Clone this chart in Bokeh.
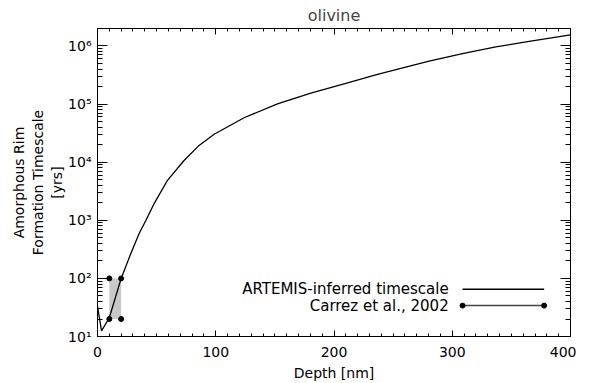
from bokeh.plotting import figure
from bokeh.models import (LinearAxis, LogAxis, SingleIntervalTicker, LogTicker,
                          CustomJSTickFormatter, Range1d, Label)
from bokeh.embed import file_html
from bokeh.resources import INLINE

# ---------------- data ----------------
title = "olivine"
x_label = "Depth [nm]"
y_label = "Amorphous Rim\nFormation Timescale\n[yrs]"

depth_nm = [0, 3.4, 10, 20, 28.2, 35.2, 41, 47.9, 59.2, 73.2, 85.9, 98.6,
            124, 152.2, 180.4, 208.5, 236.8, 256.5, 280.4, 308.7, 336.8, 365, 400]
timescale_yrs = [33, 12.5, 21, 100, 269, 593, 1000, 1940, 4880, 10700, 19450, 30200,
                 58200, 101200, 153800, 223400, 323600, 412100, 547000, 741300,
                 963800, 1202000, 1549000]

carrez_depth = [10, 20]
carrez_time = [20, 100]

legend_labels = ["ARTEMIS-inferred timescale", "Carrez et al., 2002"]

# ---------------- styling / layout ----------------
FONT = "DejaVu Sans"
x_range = (0, 400)
y_range = (10, 2e6)

p = figure(output_backend="svg", toolbar_location=None,
           frame_width=473, frame_height=308,
           min_border_left=97, min_border_right=6, min_border_top=28, min_border_bottom=40,
           x_range=Range1d(*x_range), y_range=Range1d(*y_range),
           y_axis_type="log", title=title)

p.title.align = "center"
p.title.text_font = FONT
p.title.text_font_style = "normal"
p.title.text_font_size = "16px"
p.title.standoff = 7
p.grid.visible = False
p.outline_line_color = "black"
p.background_fill_color = "white"
p.border_fill_color = "white"

sup_code = """
const sup = {'0':'\u2070','1':'\u00b9','2':'\u00b2','3':'\u00b3','4':'\u2074','5':'\u2075','6':'\u2076','7':'\u2077','8':'\u2078','9':'\u2079','-':'\u207b'};
const e = Math.round(Math.log10(tick));
return '10' + String(e).split('').map(c => sup[c]).join('');
"""
empty = CustomJSTickFormatter(code="return '';")

def style_axis(ax, major_in, minor_in):
    ax.axis_line_color = "black"
    ax.major_tick_line_color = "black"
    ax.minor_tick_line_color = "black"
    ax.major_tick_in = major_in
    ax.major_tick_out = 0
    ax.minor_tick_in = minor_in
    ax.minor_tick_out = 0
    ax.major_label_text_font = FONT
    ax.major_label_text_font_size = "14px"
    ax.major_label_text_color = "black"
    ax.axis_label_text_font = FONT
    ax.axis_label_text_font_size = "14px"
    ax.axis_label_text_font_style = "normal"
    ax.axis_label_text_color = "black"

xtick = SingleIntervalTicker(interval=100, num_minor_ticks=10)
ytick = LogTicker(num_minor_ticks=10)

xa = p.xaxis[0]
xa.ticker = xtick
xa.axis_label = x_label
style_axis(xa, 6, 3)
xa.major_label_standoff = 10
xa.axis_label_standoff = 5

ya = p.yaxis[0]
ya.ticker = ytick
ya.formatter = CustomJSTickFormatter(code=sup_code)
ya.axis_label = y_label
style_axis(ya, 10, 5)
ya.major_label_standoff = 6
ya.axis_label_standoff = 0

top = LinearAxis(ticker=xtick, formatter=empty)
style_axis(top, 6, 3)
top.major_label_standoff = 0
p.add_layout(top, "above")

right = LogAxis(ticker=ytick, formatter=empty)
style_axis(right, 10, 5)
right.major_label_standoff = 0
p.add_layout(right, "right")

# Carrez et al. box and corner points
p.quad(left=[carrez_depth[0]], right=[carrez_depth[1]],
       bottom=[carrez_time[0]], top=[carrez_time[1]],
       fill_color="#c8c8c8", line_color=None)
cx = [carrez_depth[0], carrez_depth[1], carrez_depth[0], carrez_depth[1]]
cy = [carrez_time[0], carrez_time[0], carrez_time[1], carrez_time[1]]
p.scatter(cx, cy, size=5, color="black")

# ARTEMIS curve
p.line(depth_nm, timescale_yrs, line_color="black", line_width=1.3)

# manual legend (text left of sample, as in the original)
leg_x0, leg_x1, leg_text_x = 308.7, 377.7, 297
leg_y = [65, 34]
p.line([leg_x0, leg_x1], [leg_y[0], leg_y[0]], line_color="black", line_width=1.3)
p.line([leg_x0, leg_x1], [leg_y[1], leg_y[1]], line_color="#444444", line_width=1.5)
p.scatter([leg_x0, leg_x1], [leg_y[1], leg_y[1]], size=5, color="black")
for lab, yy in zip(legend_labels, leg_y):
    p.add_layout(Label(x=leg_text_x, y=yy, text=lab, text_align="right",
                       text_baseline="middle", text_font=FONT,
                       text_font_size="15px", text_color="black"))

open("out.html", "w").write(file_html(p, INLINE))
